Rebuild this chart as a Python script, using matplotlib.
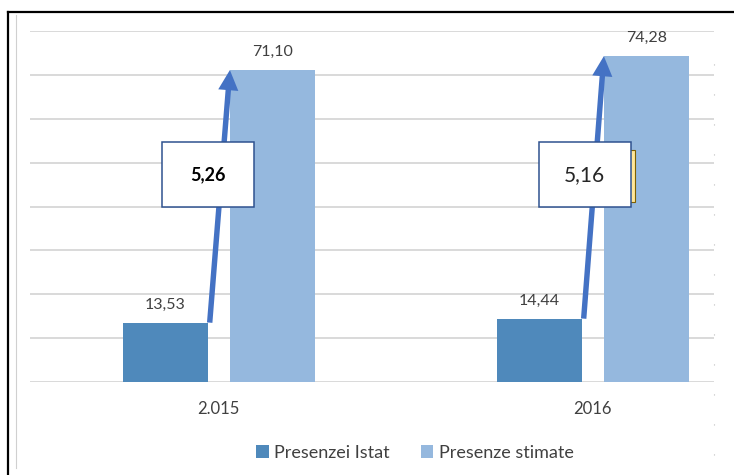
import matplotlib
matplotlib.use("Agg")
from matplotlib import pyplot as plt
from matplotlib.patches import Rectangle, Patch
from matplotlib.lines import Line2D
import numpy as np

plt.rcParams['font.family'] = ['Lato', 'DejaVu Sans']

# dati
anni = ["2.015", "2016"]
istat = [13.53, 14.44]
stimate = [71.10, 74.28]
etichette_istat = ["13,53", "14,44"]
etichette_stimate = ["71,10", "74,28"]
rapporti = ["5,26", "5,16"]
serie = ["Presenzei Istat", "Presenze stimate"]

col_scuro = "#4F89BB"
col_chiaro = "#95B8DE"
col_freccia = "#4472C4"
col_testo = "#404040"

fig = plt.figure(figsize=(7.34, 4.75), dpi=100)
W, H = 734, 475
ax = fig.add_axes([30 / W, 1 - 382 / H, (714 - 30) / W, (382 - 31) / H])

x = np.arange(len(anni))
larg = 0.227
off = 0.143

ax.bar(x - off, istat, larg, color=col_scuro, zorder=2)
ax.bar(x + off, stimate, larg, color=col_chiaro, zorder=2)

for i in range(len(anni)):
    ax.annotate(etichette_istat[i], (x[i] - off, istat[i]), xytext=(0, 13),
                textcoords="offset points", ha="center", va="center",
                fontsize=11.5, color=col_testo)
    ax.annotate(etichette_stimate[i], (x[i] + off, stimate[i]), xytext=(0, 13),
                textcoords="offset points", ha="center", va="center",
                fontsize=11.5, color=col_testo)
    # freccia dal valore Istat al valore stimato
    x0 = x[i] - off + larg / 2 + 0.005
    x1 = x[i] + off - larg / 2
    ax.annotate("", xy=(x1, stimate[i]), xytext=(x0, istat[i]),
                arrowprops=dict(arrowstyle="simple,head_length=1.0,head_width=1.0,tail_width=0.27",
                                mutation_scale=14.5, fc=col_freccia, ec="none",
                                shrinkA=0, shrinkB=0),
                zorder=4)

# riquadri con il rapporto
bw, bh = 0.246, 14.8
yc = 47.2
centri = [x[0] - 0.03, x[1] - 0.022]
for i, c in enumerate(centri):
    if i == 1:
        ax.add_patch(Rectangle((c + bw / 2 - 0.01, 46.9 - 11.8 / 2), 0.021, 11.8,
                               facecolor="#FFE699", edgecolor="#7F6000", lw=0.8, zorder=5))
    ax.add_patch(Rectangle((c - bw / 2, yc - bh / 2), bw, bh, facecolor="white",
                           edgecolor="#2F528F", lw=1.1, zorder=6))
    ax.text(c, yc, rapporti[i], ha="center", va="center", zorder=7,
            fontsize=13 if i == 0 else 15, fontweight="bold" if i == 0 else "normal",
            color="black" if i == 0 else "#262626")

ax.set_xlim(-0.505, 1.324)
ax.set_ylim(0, 80)
ax.set_yticks(np.arange(0, 81, 10))
ax.yaxis.grid(True, color="#D9D9D9", lw=1.4, zorder=0)
ax.set_axisbelow(True)
ax.tick_params(axis="y", length=0, labelleft=False)
ax.set_xticks(x)
ax.set_xticklabels(anni, fontsize=12, color=col_testo)
ax.tick_params(axis="x", length=0, pad=14)
for s in ax.spines.values():
    s.set_visible(False)

# legenda
maniglie = [Patch(facecolor=col_scuro), Patch(facecolor=col_chiaro)]
fig.legend(maniglie, serie, loc="center", bbox_to_anchor=(415 / W, 1 - 453 / H),
           ncol=2, frameon=False, fontsize=13, handlelength=0.7, handleheight=0.7,
           handletextpad=0.3, columnspacing=1.7, labelcolor=col_testo)

# cornice
fig.add_artist(Line2D([8 / W, 8 / W], [0, 1 - 12 / H], color="black", lw=1.6))
fig.add_artist(Line2D([8 / W, 1], [1 - 12 / H, 1 - 12 / H], color="black", lw=1.6))
fig.add_artist(Line2D([16 / W, 16 / W], [1 - 468 / H, 1 - 15 / H], color="#D0D0D0", lw=0.8))
fig.add_artist(Line2D([714 / W, 714 / W], [1 - 455 / H, 1 - 59 / H], color="#BFBFBF",
                      lw=0.8, linestyle=(0, (1, 26))))

fig.savefig("out.png", dpi=100)
